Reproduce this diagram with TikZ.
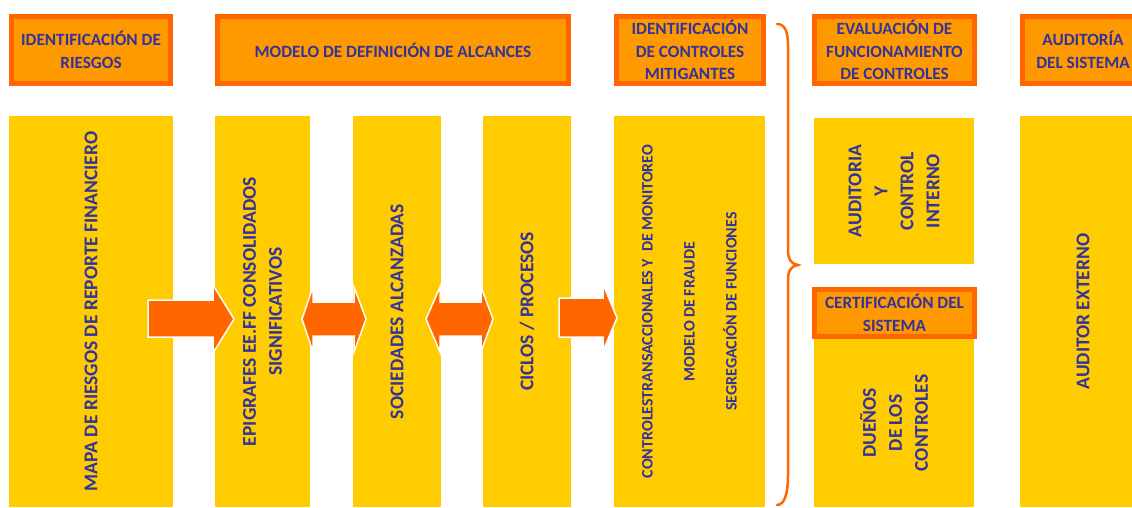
\documentclass[tikz,border=0pt]{standalone}
\usepackage{fontspec}
\setmainfont{Carlito}
\definecolor{borange}{HTML}{FF6600}
\definecolor{hfill}{HTML}{FF9900}
\definecolor{byellow}{HTML}{FFCC00}
\definecolor{tblue}{HTML}{333399}
\newcommand{\hdrfont}{\fontsize{17.2}{22.5}\selectfont\bfseries}
\newcommand{\barfont}{\fontsize{19.5}{26}\selectfont\bfseries}
\newcommand{\smlfont}{\fontsize{16}{42}\selectfont\bfseries}
\begin{document}
\begin{tikzpicture}[x=1pt,y=-1pt,
  hdr/.style={draw=borange, fill=hfill, line width=5pt, text=tblue, font=\hdrfont, align=center, inner sep=0pt, outer sep=0pt},
  bar/.style={fill=byellow, text=tblue, font=\barfont, align=center, inner sep=0pt, outer sep=0pt, rotate=90},
  blockarrow/.style={fill=borange, draw=white, line width=1.5pt, line join=miter},
  bracestyle/.style={draw=borange, line width=2.5pt, line cap=round}]
\useasboundingbox (0,0) rectangle (1132,507);
\clip (0,0) rectangle (1132,507);
% header boxes
\node[hdr, minimum width=159, minimum height=67] (h1) at (91,50) {IDENTIFICACIÓN DE\\RIESGOS};
\node[hdr, minimum width=351, minimum height=67] (h2) at (393,50) {MODELO DE DEFINICIÓN DE ALCANCES};
\node[hdr, minimum width=147, minimum height=67] (h3) at (690,50) {IDENTIFICACIÓN\\DE CONTROLES\\MITIGANTES};
\node[hdr, minimum width=160, minimum height=67] (h4) at (894.5,50) {EVALUACIÓN DE\\FUNCIONAMIENTO\\DE CONTROLES};
\node[hdr, minimum width=121, minimum height=67] (h5) at (1083,50) {AUDITORÍA\\DEL SISTEMA};
% bars
\node[bar, minimum width=391, minimum height=164] (b1) at (91,311.5) {MAPA DE RIESGOS DE REPORTE FINANCIERO};
\node[bar, minimum width=391, minimum height=95] (b2) at (262.5,311.5) {EPIGRAFES EE.FF CONSOLIDADOS\\SIGNIFICATIVOS};
\node[bar, minimum width=391, minimum height=88] (b3) at (397,311.5) {SOCIEDADES ALCANZADAS};
\node[bar, minimum width=391, minimum height=88] (b4) at (527,311.5) {CICLOS / PROCESOS};
\node[bar, font=\smlfont, minimum width=391, minimum height=151] (b5) at (689.5,311.5) {CONTROLESTRANSACCIONALES Y \ DE MONITOREO\\MODELO DE FRAUDE\\SEGREGACIÓN DE FUNCIONES};
\node[bar, minimum width=146, minimum height=160] (b6) at (894,191) {AUDITORIA\\Y\\CONTROL\\INTERNO};
\node[bar, minimum width=168, minimum height=160] (b7) at (894,423) {DUEÑOS\\DE LOS\\CONTROLES};
\node[bar, minimum width=391, minimum height=126] (b8) at (1083,311.5) {AUDITOR EXTERNO};
\node[hdr, minimum width=160, minimum height=47] (h6) at (894.5,313) {CERTIFICACIÓN DEL\\SISTEMA};
% block arrows
\draw[blockarrow] (148,300) -- (213,300) -- (213,285) -- (234,319) -- (213,353) -- (213,337) -- (148,337) -- cycle;
\draw[blockarrow] (302,319) -- (313,287) -- (313,302) -- (354,302) -- (354,287) -- (366,319) -- (354,352) -- (354,336) -- (313,336) -- (313,352) -- cycle;
\draw[blockarrow] (426,319) -- (440,287) -- (440,302) -- (481,302) -- (481,287) -- (493,319) -- (481,352) -- (481,336) -- (440,336) -- (440,352) -- cycle;
\draw[blockarrow] (559,298) -- (603,298) -- (603,284) -- (617,318) -- (603,351) -- (603,337) -- (559,337) -- cycle;
% brace
\draw[bracestyle] (777,24) .. controls (785,24) and (788,32) .. (788,45) -- (788,250) .. controls (788,259) and (791,264) .. (798,265) .. controls (791,266) and (788,271) .. (788,280) -- (788,475) .. controls (788,495) and (784,505) .. (777,505);
\end{tikzpicture}
\end{document}
